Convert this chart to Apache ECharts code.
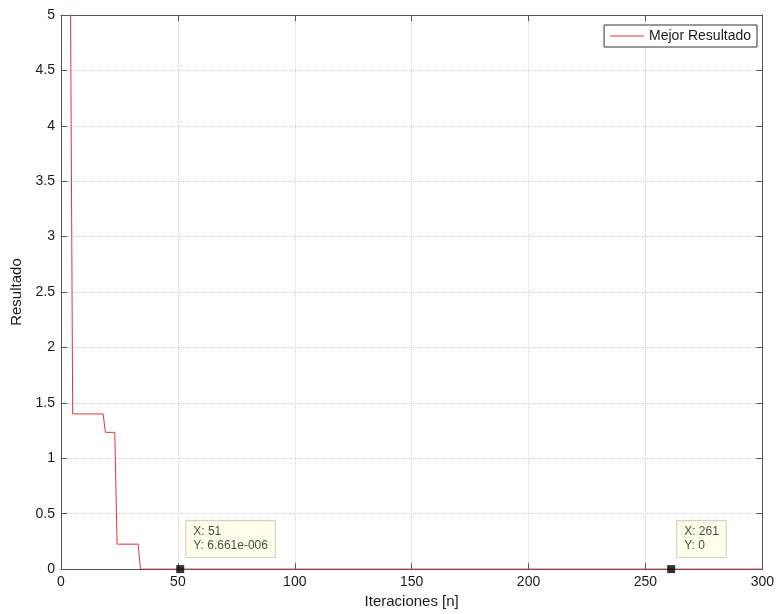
<!DOCTYPE html>
<html>
<head>
<meta charset="utf-8">
<script src="https://cdn.jsdelivr.net/npm/echarts@6/dist/echarts.min.js"></script>
<style>html,body{margin:0;padding:0;background:#fff}#c{width:777px;height:614px}</style>
</head>
<body>
<div id="c"></div>
<script>
const iterations = [1, 2, 3, 4, 5, 18, 19, 23, 24, 33, 34, 51, 261, 300];
const values = [12, 8.5, 6.5, 5.4, 1.4, 1.4, 1.234, 1.234, 0.225, 0.225, 0.00002, 0.000006661, 0, 0];
const tipX = [51, 261];
const tipY = [0.000006661, 0];
const tipLabels = ['X: 51\nY: 6.661e-006', 'X: 261\nY: 0'];
const xTicks = [0, 50, 100, 150, 200, 250, 300];
const yTicks = [0, 0.5, 1, 1.5, 2, 2.5, 3, 3.5, 4, 4.5, 5];

const font = 'Liberation Sans, Arial, sans-serif';
const axisColor = '#555';
const textColor = '#1a1a1a';
const chart = echarts.init(document.getElementById('c'));
const lineData = iterations.map((x, i) => [x, values[i]]);
const tipData = tipX.map((x, i) => ({
  value: [x, tipY[i]],
  label: { formatter: tipLabels[i] }
}));

const baseX = {
  type: 'value', min: xTicks[0], max: xTicks[xTicks.length - 1], interval: 50,
  axisLine: { show: true, onZero: false, lineStyle: { color: axisColor, width: 1 } },
  axisTick: { show: true, inside: true, length: 6, lineStyle: { color: axisColor } },
  splitLine: { show: false }
};
const baseY = {
  type: 'value', min: yTicks[0], max: yTicks[yTicks.length - 1], interval: 0.5,
  axisLine: { show: true, onZero: false, lineStyle: { color: axisColor, width: 1 } },
  axisTick: { show: true, inside: true, length: 6, lineStyle: { color: axisColor } },
  splitLine: { show: false }
};

chart.setOption({
  animation: false,
  backgroundColor: '#fff',
  textStyle: { fontFamily: font },
  grid: { left: 61, right: 13, top: 15, bottom: 42 },
  legend: {
    right: 20, top: 25,
    data: [{ name: 'Mejor Resultado', icon: 'rect' }],
    backgroundColor: '#fff',
    borderColor: '#333', borderWidth: 1,
    padding: [4, 6, 4, 6],
    itemWidth: 34, itemHeight: 1.2, itemGap: 6,
    textStyle: { fontFamily: font, fontSize: 14, color: textColor }
  },
  xAxis: [
    Object.assign({}, baseX, {
      position: 'bottom',
      name: 'Iteraciones [n]', nameLocation: 'middle', nameGap: 23,
      nameTextStyle: { fontFamily: font, fontSize: 15, color: textColor },
      axisLabel: { show: true, margin: 6, fontFamily: font, fontSize: 14, color: textColor },
      splitLine: { show: true, lineStyle: { type: 'dotted', color: '#d0d0d0' } }
    }),
    Object.assign({}, baseX, { position: 'top', axisLabel: { show: false } })
  ],
  yAxis: [
    Object.assign({}, baseY, {
      position: 'left',
      name: 'Resultado', nameLocation: 'middle', nameGap: 35,
      nameTextStyle: { fontFamily: font, fontSize: 15, color: textColor },
      axisLabel: { show: true, margin: 6, fontFamily: font, fontSize: 14, color: textColor },
      splitLine: { show: true, lineStyle: { type: 'dotted', color: '#d0d0d0' } }
    }),
    Object.assign({}, baseY, { position: 'right', axisLabel: { show: false } })
  ],
  series: [
    {
      name: 'Mejor Resultado', type: 'line', data: lineData,
      xAxisIndex: 0, yAxisIndex: 0,
      symbol: 'none', clip: true,
      lineStyle: { color: '#d83c3c', width: 1 },
      itemStyle: { color: '#d83c3c' },
      z: 3
    },
    {
      name: 'tips', type: 'scatter', data: tipData,
      xAxisIndex: 0, yAxisIndex: 0,
      symbol: 'rect', symbolSize: 8, clip: false,
      itemStyle: { color: '#000' },
      label: {
        show: true, position: [10, -44], align: 'left', verticalAlign: 'top',
        fontFamily: font, fontSize: 12, color: textColor, lineHeight: 14,
        backgroundColor: '#ffffe6', borderColor: '#c8c8b8', borderWidth: 1,
        padding: [4, 7, 4, 7]
      },
      z: 5
    }
  ]
});
</script>
</body>
</html>
